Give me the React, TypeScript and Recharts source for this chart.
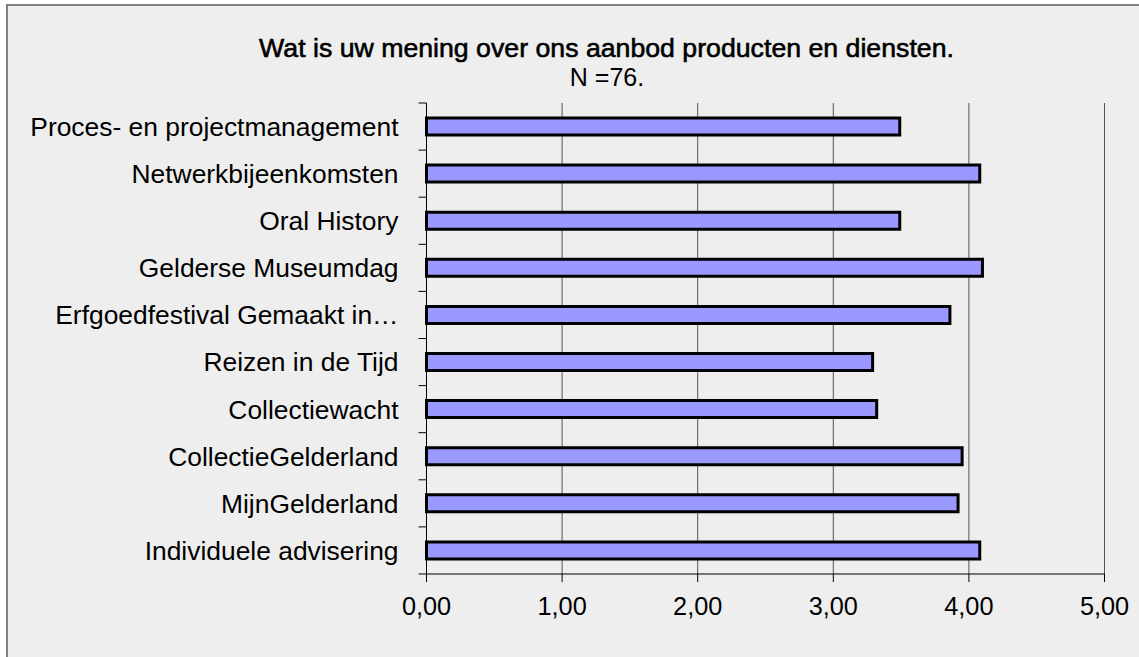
import React from "react";
import { BarChart, Bar, XAxis, YAxis, CartesianGrid } from "recharts";

const categories: string[] = [
  "Proces- en projectmanagement",
  "Netwerkbijeenkomsten",
  "Oral History",
  "Gelderse Museumdag",
  "Erfgoedfestival Gemaakt in…",
  "Reizen in de Tijd",
  "Collectiewacht",
  "CollectieGelderland",
  "MijnGelderland",
  "Individuele advisering",
];

const scores: number[] = [3.49, 4.08, 3.49, 4.1, 3.86, 3.29, 3.32, 3.95, 3.92, 4.08];

const xTicks: number[] = [0, 1, 2, 3, 4, 5];

const titleText = "Wat is uw mening over ons aanbod producten en diensten.";
const subtitleText = "N =76.";

const data = categories.map((name, i) => ({ name, value: scores[i] }));

const FONT = "'Liberation Sans', Arial, Helvetica, sans-serif";
const W = 1139;
const H = 657;
const PLOT_TOP = 103;
const PLOT_BOTTOM = 574;
const Y_TICK_SIZE = 8;
const Y_TICK_MARGIN = 20;

const YTick = (props: any) => {
  const { x, y, payload, index } = props;
  const fallback = (PLOT_BOTTOM - PLOT_TOP) / categories.length / 2;
  const off = payload && payload.offset ? payload.offset : fallback;
  const lx1 = x + Y_TICK_MARGIN;
  const lx2 = x + Y_TICK_MARGIN + Y_TICK_SIZE;
  return (
    <g>
      <line x1={lx1} x2={lx2} y1={y - off} y2={y - off} stroke="#000" strokeWidth={1} />
      {index === categories.length - 1 && (
        <line x1={lx1} x2={lx2} y1={y + off} y2={y + off} stroke="#000" strokeWidth={1} />
      )}
      <text
        x={x}
        y={y}
        dy="0.355em"
        textAnchor="end"
        fontSize={26.4}
        fontFamily={FONT}
        fill="#000"
      >
        {payload.value}
      </text>
    </g>
  );
};

const fmt = (v: number) => v.toFixed(2).replace(".", ",");

export default function App() {
  return (
    <div
      style={{
        position: "fixed",
        left: 0,
        top: 0,
        width: W,
        height: H,
        overflow: "hidden",
        background: "#ffffff",
      }}
    >
      <div
        style={{
          position: "absolute",
          left: 6,
          top: 4,
          width: 1300,
          height: 800,
          border: "2px solid #808080",
          background: "#EEEEEE",
        }}
      />
      <div style={{ position: "absolute", left: 0, top: 0 }}>
        <BarChart
          width={W}
          height={H}
          data={data}
          layout="vertical"
          margin={{ top: PLOT_TOP, right: 34.5, left: 0, bottom: 43 }}
          barCategoryGap={0}
        >
          <CartesianGrid horizontal={false} vertical={true} stroke="#555" strokeWidth={1} />
          <XAxis
            type="number"
            domain={[0, 5]}
            ticks={xTicks}
            interval={0}
            tickFormatter={fmt}
            height={40}
            tickSize={8}
            tickMargin={15}
            axisLine={{ stroke: "#000", strokeWidth: 1 }}
            tickLine={{ stroke: "#000", strokeWidth: 1 }}
            tick={{ fontSize: 25.3, fontFamily: FONT, fill: "#000" }}
          />
          <YAxis
            type="category"
            dataKey="name"
            width={426.5}
            interval={0}
            tickSize={Y_TICK_SIZE}
            tickMargin={Y_TICK_MARGIN}
            tickLine={false}
            axisLine={{ stroke: "#000", strokeWidth: 1 }}
            tick={<YTick />}
          />
          <Bar
            dataKey="value"
            fill="#9999FF"
            stroke="#000"
            strokeWidth={3}
            barSize={17}
            isAnimationActive={false}
          />
        </BarChart>
      </div>
      <svg
        width={W}
        height={H}
        style={{ position: "absolute", left: 0, top: 0, pointerEvents: "none" }}
      >
        <text
          x={606.5}
          y={56.5}
          textAnchor="middle"
          fontSize={26.7}
          fontFamily={FONT}
          fill="#000"
          stroke="#000"
          strokeWidth={0.6}
        >
          {titleText}
        </text>
        <text
          x={607}
          y={86}
          textAnchor="middle"
          fontSize={25}
          fontFamily={FONT}
          fill="#000"
        >
          {subtitleText}
        </text>
      </svg>
    </div>
  );
}
